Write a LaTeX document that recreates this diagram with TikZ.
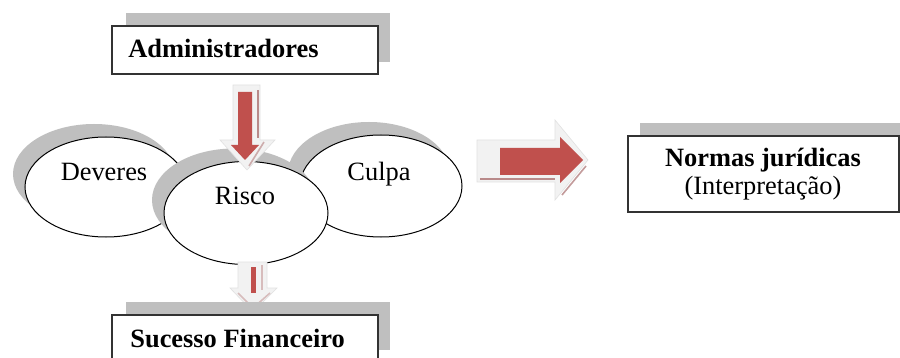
\documentclass[tikz,border=0pt]{standalone}
\usepackage{fontspec}
\setmainfont{Liberation Serif}
\usetikzlibrary{shapes.geometric}
\definecolor{shad}{HTML}{BFBFBF}
\definecolor{arrred}{HTML}{C0504D}
\definecolor{arrlight}{HTML}{F2F2F2}
\definecolor{arrdark}{HTML}{9B5858}
\definecolor{boxline}{HTML}{333333}
\tikzset{
  lbl/.style={font=\fontsize{13.2}{15}\selectfont, inner sep=0pt},
  blbl/.style={font=\fontsize{13.2}{15}\selectfont\bfseries, inner sep=0pt},
  oval/.style={ellipse, draw=black, line width=0.5pt, fill=white, inner sep=0pt},
  ovalshadow/.style={ellipse, fill=shad, draw=none, inner sep=0pt},
  boxshape/.style={draw=boxline, line width=0.9pt, fill=white},
  boxshadow/.style={fill=shad, draw=none},
  outerarrow/.style={fill=arrlight, draw=arrlight!85!gray, line width=0.3pt},
  innerarrow/.style={fill=arrred, draw=none},
  accent/.style={draw=arrdark!70, line width=0.8pt}
}
\begin{document}
\begin{tikzpicture}[x=0.5pt,y=-0.5pt]
\useasboundingbox (0,0) rectangle (900,358);
\clip (0,0) rectangle (900,358);
\fill[white] (0,0) rectangle (900,358);

% Administradores box
\fill[boxshadow] (126,13) rectangle (390,62);
\draw[boxshape] (112,26) rectangle (378,74);
\node[blbl, anchor=base west] (adm) at (128,58) {Administradores};

% Ellipses
\node[ovalshadow, minimum width=81pt, minimum height=50pt] (devS) at (94,174) {};
\node[oval, minimum width=81pt, minimum height=50pt] (dev) at (106,187) {};
\node[ovalshadow, minimum width=81pt, minimum height=51pt] (culS) at (369,173) {};
\node[oval, minimum width=81pt, minimum height=51pt] (cul) at (381,186) {};
\node[ovalshadow, minimum width=82pt, minimum height=51.5pt] (risS) at (234,200) {};
\node[oval, minimum width=82pt, minimum height=51.5pt] (ris) at (246,213) {};

\node[lbl, anchor=base] (devT) at (104,180) {Deveres};
\node[lbl, anchor=base] (risT) at (245,205) {Risco};
\node[lbl, anchor=base] (culT) at (379,180) {Culpa};

% Top down arrow
\draw[outerarrow] (233,85) -- (260,85) -- (260,140) -- (275,140) -- (247,170) -- (220,140) -- (233,140) -- cycle;
\fill[innerarrow] (238,92) -- (252,92) -- (252,145) -- (259,145) -- (245,160) -- (231,145) -- (238,145) -- cycle;
\draw[accent] (258,90) -- (258,138);
\draw[accent, arrdark!50] (264,142) -- (249,166);

% Bottom down arrow
\draw[outerarrow] (238,262) -- (267,262) -- (267,288) -- (277,288) -- (253,312) -- (230,288) -- (238,288) -- cycle;
\fill[innerarrow] (251,267) rectangle (256,293);
\draw[accent, arrdark!40] (262,265) -- (262,290);
\draw[accent, arrdark!40] (238,293) -- (253,308) -- (270,293);

% Right arrow
\draw[outerarrow] (477,140) -- (555,140) -- (555,120) -- (588,160) -- (555,200) -- (555,182) -- (477,182) -- cycle;
\fill[innerarrow] (500,148) -- (560,148) -- (560,137) -- (583,160) -- (560,183) -- (560,175) -- (500,175) -- cycle;
\draw[accent] (480,179) -- (555,179);
\draw[accent, arrdark!60] (586,166) -- (562,195);

% Normas box
\fill[boxshadow] (640,123) rectangle (912,199);
\draw[boxshape] (628,136) rectangle (899,212);
\node[blbl, anchor=base] (norm) at (763,167) {Normas jurídicas};
\node[lbl, anchor=base] (interp) at (763,194) {(Interpretação)};

% Sucesso box
\fill[boxshadow] (126,302) rectangle (390,350);
\draw[boxshape] (112,315) rectangle (378,363);
\node[blbl, anchor=base west] (suc) at (130,347) {Sucesso Financeiro};
\end{tikzpicture}
\end{document}
